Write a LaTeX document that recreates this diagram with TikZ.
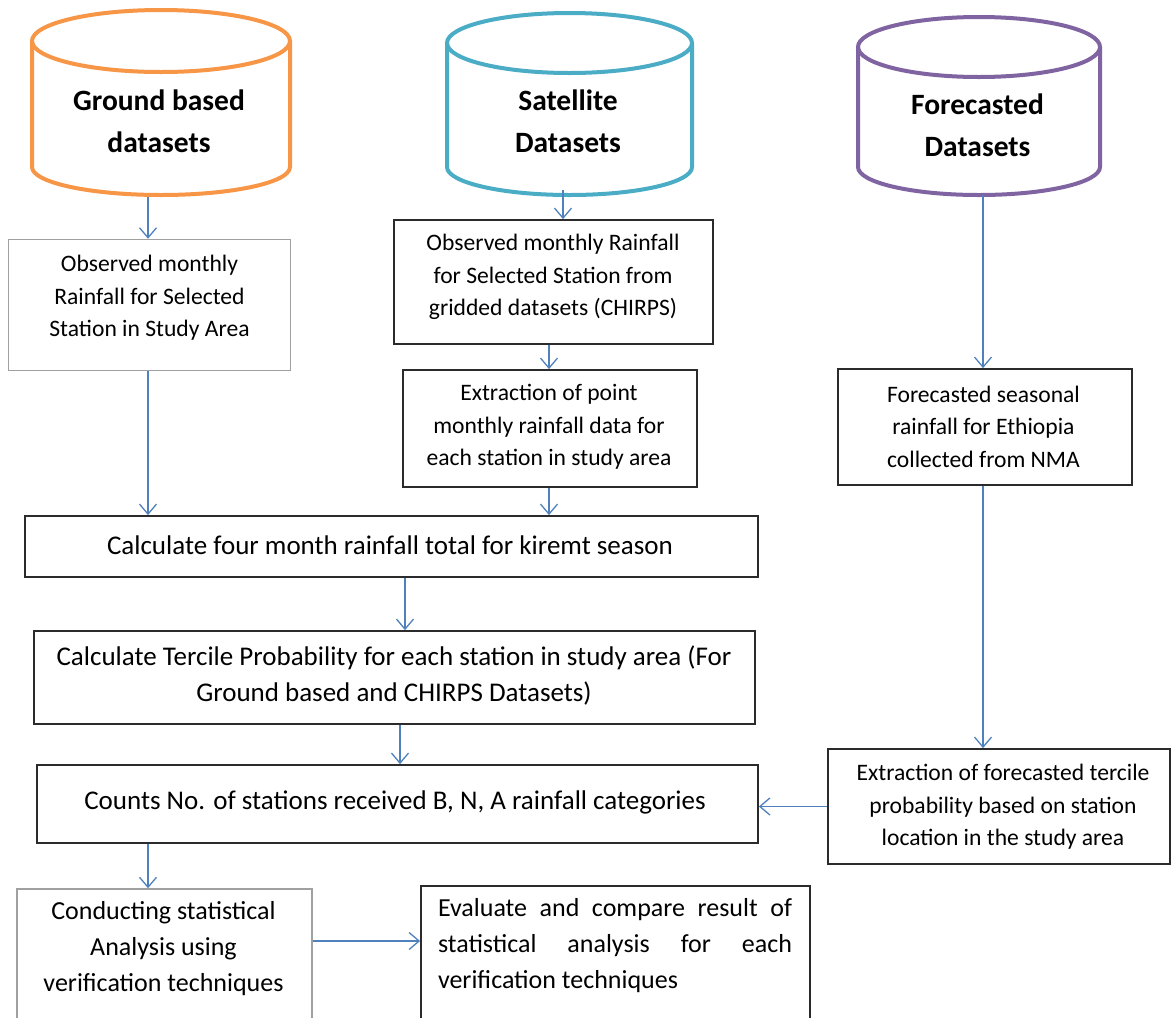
\documentclass[tikz,border=0pt]{standalone}
\usepackage{fontspec}
\setmainfont{Carlito}
\usetikzlibrary{arrows.meta}
\definecolor{cOrange}{HTML}{F79646}
\definecolor{cTeal}{HTML}{4BACC6}
\definecolor{cPurple}{HTML}{8064A2}
\definecolor{cArrow}{HTML}{4F81BD}
\definecolor{cGrayBox}{HTML}{A0A0A0}
\definecolor{cDarkBox}{HTML}{2B2B2B}
\begin{document}
\begin{tikzpicture}[x=1pt,y=-1pt,
  cyl/.style={line width=4pt},
  boxD/.style={draw=cDarkBox, line width=1.8pt, inner sep=0pt, rectangle},
  boxG/.style={draw=cGrayBox, line width=1.5pt, inner sep=0pt, rectangle},
  arr/.style={draw=cArrow, line width=1.3pt, -{Straight Barb[length=10pt,width=17pt]}},
  small/.style={font=\fontsize{23.6}{32.5}\selectfont, align=center, inner sep=0pt},
  big/.style={font=\fontsize{26}{36}\selectfont, align=center, inner sep=0pt},
  wide/.style={font=\fontsize{27}{36}\selectfont, align=center, inner sep=0pt},
  cyltext/.style={font=\fontsize{29.5}{42}\selectfont\bfseries, align=center, inner sep=0pt}]
\path[use as bounding box] (0,0) rectangle (1171,1018);
\clip (0,0) rectangle (1171,1018);
\fill[white] (0,0) rectangle (1171,1018);

% cylinders
\draw[cyl, cOrange] (161,41) ellipse [x radius=129pt, y radius=31pt];
\draw[cyl, cOrange] (32,41) -- (32,167) arc[start angle=180, end angle=360, x radius=129pt, y radius=28pt] -- (290,41);
\node[cyltext] (g1) at (159,121) {Ground based\\datasets};

\draw[cyl, cTeal] (569.5,43) ellipse [x radius=122.5pt, y radius=30pt];
\draw[cyl, cTeal] (447,43) -- (447,167) arc[start angle=180, end angle=360, x radius=122.5pt, y radius=28pt] -- (692,43);
\node[cyltext] (g2) at (568,121.5) {Satellite\\Datasets};

\draw[cyl, cPurple] (979,47) ellipse [x radius=121pt, y radius=30pt];
\draw[cyl, cPurple] (858,47) -- (858,167) arc[start angle=180, end angle=360, x radius=121pt, y radius=28pt] -- (1100,47);
\node[cyltext] (g3) at (977.5,125) {Forecasted\\Datasets};

\coordinate (c1) at (148,197);
\coordinate (c2) at (563,190);
\coordinate (c3) at (983,195);

% boxes
\node[boxG, minimum width=282pt, minimum height=131pt] (b1) at (149.5,305) {};
\node[boxD, minimum width=319pt, minimum height=124pt] (b2) at (553.5,282) {};
\node[boxD, minimum width=294pt, minimum height=117pt] (b3) at (550,428.5) {};
\node[boxD, minimum width=294pt, minimum height=116pt] (b4) at (985,427) {};
\node[boxD, minimum width=342pt, minimum height=115pt] (b5) at (999,806.5) {};
\node[boxD, minimum width=733pt, minimum height=61pt] (calc) at (391.5,546.5) {};
\node[boxD, minimum width=721pt, minimum height=93pt] (terc) at (394.5,677.5) {};
\node[boxD, minimum width=721pt, minimum height=78pt] (counts) at (397.5,804) {};
\node[boxG, minimum width=295pt, minimum height=156pt] (cond) at (164.5,967) {};
\node[boxD, minimum width=389pt, minimum height=156pt] (eval) at (615.5,964) {};

% texts
\node[small] (t1) at (149.5,298) {Observed monthly\\Rainfall for Selected\\Station in Study Area};
\node[small] (t2) at (553,277) {Observed monthly Rainfall\\for Selected Station from\\gridded datasets (CHIRPS)};
\node[small] (t3) at (549,427) {Extraction of point\\monthly rainfall data for\\each station in study area};
\node[small] (t4) at (983.5,426.5) {Forecasted seasonal\\rainfall for Ethiopia\\collected from NMA};
\node[small] (t5) at (1003,807) {Extraction of forecasted tercile\\probability based on station\\location in the study area};
\node[wide] (tc) at (390,545) {Calculate four month rainfall total for kiremt season};
\node[wide] (tt) at (394,675) {Calculate Tercile Probability for each station in study area (For\\Ground based and CHIRPS Datasets)};
\node[wide] (tn) at (395,802) {Counts No. of stations received B, N, A rainfall categories};
\node[big] (td) at (163.5,949) {Conducting statistical\\Analysis using\\verification techniques};
\node[big, align=justify, text width=354pt] (te) at (615,946) {Evaluate and compare result of\linebreak statistical analysis for each\linebreak verification techniques};

% connectors
\coordinate (x2) at (549,0);
\coordinate (x4) at (405,0);
\coordinate (x5) at (400,0);
\coordinate (y6) at (0,941);
\draw[arr] (c1) -- (c1 |- b1.north);
\draw[arr] (b1.south -| c1) -- (calc.north -| c1);
\draw[arr] (c2) -- (c2 |- b2.north);
\draw[arr] (b2.south -| x2) -- (b3.north -| x2);
\draw[arr] (b3.south -| x2) -- (calc.north -| x2);
\draw[arr] (c3) -- (c3 |- b4.north);
\draw[arr] (b4.south -| c3) -- (b5.north -| c3);
\draw[arr] (b5.west) -- (b5.west -| counts.east);
\draw[arr] (calc.south -| x4) -- (terc.north -| x4);
\draw[arr] (terc.south -| x5) -- (counts.north -| x5);
\draw[arr] (counts.south -| c1) -- (cond.north -| c1);
\draw[arr] (cond.east |- y6) -- (eval.west |- y6);
\end{tikzpicture}
\end{document}
